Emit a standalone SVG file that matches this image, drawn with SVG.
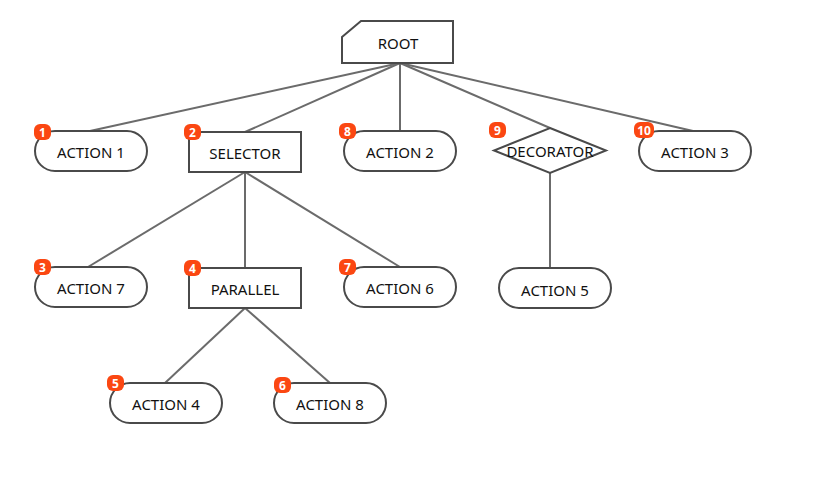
<svg xmlns="http://www.w3.org/2000/svg" width="826" height="492" viewBox="0 0 826 492">
<style>
.edge{stroke:#6b6b6b;stroke-width:2;fill:none}
.node{fill:#fff;stroke:#4a4a4a;stroke-width:2}
.lbl{font-family:"Noto Sans","Open Sans",sans-serif;font-size:15px;fill:#111;text-anchor:middle;dominant-baseline:central}
.badge{fill:#fb4712}
.bn{font-family:"Noto Sans","Open Sans",sans-serif;font-size:12px;font-weight:bold;fill:#fff;text-anchor:middle;dominant-baseline:central}
</style>
<rect width="826" height="492" fill="#fff"/>
<g id="connectors">
<line class="edge" x1="400" y1="63" x2="90" y2="131"/>
<line class="edge" x1="400" y1="63" x2="245" y2="132"/>
<line class="edge" x1="400" y1="63" x2="400" y2="131"/>
<line class="edge" x1="400" y1="63" x2="550" y2="128"/>
<line class="edge" x1="400" y1="63" x2="693" y2="131"/>
<line class="edge" x1="245" y1="172" x2="88" y2="267"/>
<line class="edge" x1="245" y1="172" x2="245" y2="268"/>
<line class="edge" x1="245" y1="172" x2="400" y2="267"/>
<line class="edge" x1="550" y1="173" x2="550" y2="268"/>
<line class="edge" x1="245" y1="308" x2="165" y2="383"/>
<line class="edge" x1="245" y1="308" x2="330" y2="383"/>
</g>
<g id="root">
<polygon class="node" points="342,37 361,21 453,21 453,63 342,63"/>
<text class="lbl" x="398" y="43">ROOT</text>
</g>
<g id="action1">
<rect class="node" x="35" y="131" width="112" height="40" rx="20"/>
<text class="lbl" x="91" y="152">ACTION 1</text>
<rect class="badge" x="34" y="124" width="17" height="16" rx="6"/>
<text class="bn" x="42.5" y="132">1</text>
</g>
<g id="selector">
<rect class="node" x="189" y="132" width="112" height="40"/>
<text class="lbl" x="245" y="153">SELECTOR</text>
<rect class="badge" x="184" y="124" width="17" height="16" rx="6"/>
<text class="bn" x="192.5" y="132">2</text>
</g>
<g id="action2">
<rect class="node" x="344" y="131" width="112" height="40" rx="20"/>
<text class="lbl" x="400" y="152">ACTION 2</text>
<rect class="badge" x="339" y="123" width="17" height="16" rx="6"/>
<text class="bn" x="347.5" y="131">8</text>
</g>
<g id="decorator">
<polygon class="node" points="550,128 606,150.5 550,173 494,150.5"/>
<text class="lbl" x="550" y="151">DECORATOR</text>
<rect class="badge" x="489" y="122" width="17" height="16" rx="6"/>
<text class="bn" x="497.5" y="130">9</text>
</g>
<g id="action3">
<rect class="node" x="639" y="131" width="112" height="40" rx="20"/>
<text class="lbl" x="695" y="152">ACTION 3</text>
<rect class="badge" x="634" y="122" width="20" height="16" rx="6"/>
<text class="bn" x="644" y="130">10</text>
</g>
<g id="action7">
<rect class="node" x="35" y="267" width="112" height="40" rx="20"/>
<text class="lbl" x="91" y="288">ACTION 7</text>
<rect class="badge" x="34" y="259" width="17" height="16" rx="6"/>
<text class="bn" x="42.5" y="267">3</text>
</g>
<g id="parallel">
<rect class="node" x="189" y="268" width="112" height="40"/>
<text class="lbl" x="245" y="289">PARALLEL</text>
<rect class="badge" x="184" y="260" width="17" height="16" rx="6"/>
<text class="bn" x="192.5" y="268">4</text>
</g>
<g id="action6">
<rect class="node" x="344" y="267" width="112" height="40" rx="20"/>
<text class="lbl" x="400" y="288">ACTION 6</text>
<rect class="badge" x="339" y="259" width="17" height="16" rx="6"/>
<text class="bn" x="347.5" y="267">7</text>
</g>
<g id="action5">
<rect class="node" x="499" y="268" width="112" height="40" rx="20"/>
<text class="lbl" x="555" y="290">ACTION 5</text>
</g>
<g id="action4">
<rect class="node" x="110" y="383" width="112" height="40" rx="20"/>
<text class="lbl" x="166" y="404">ACTION 4</text>
<rect class="badge" x="107" y="375" width="17" height="16" rx="6"/>
<text class="bn" x="115.5" y="383">5</text>
</g>
<g id="action8">
<rect class="node" x="274" y="383" width="112" height="40" rx="20"/>
<text class="lbl" x="330" y="404">ACTION 8</text>
<rect class="badge" x="274" y="377" width="17" height="16" rx="6"/>
<text class="bn" x="282.5" y="385">6</text>
</g>
</svg>
